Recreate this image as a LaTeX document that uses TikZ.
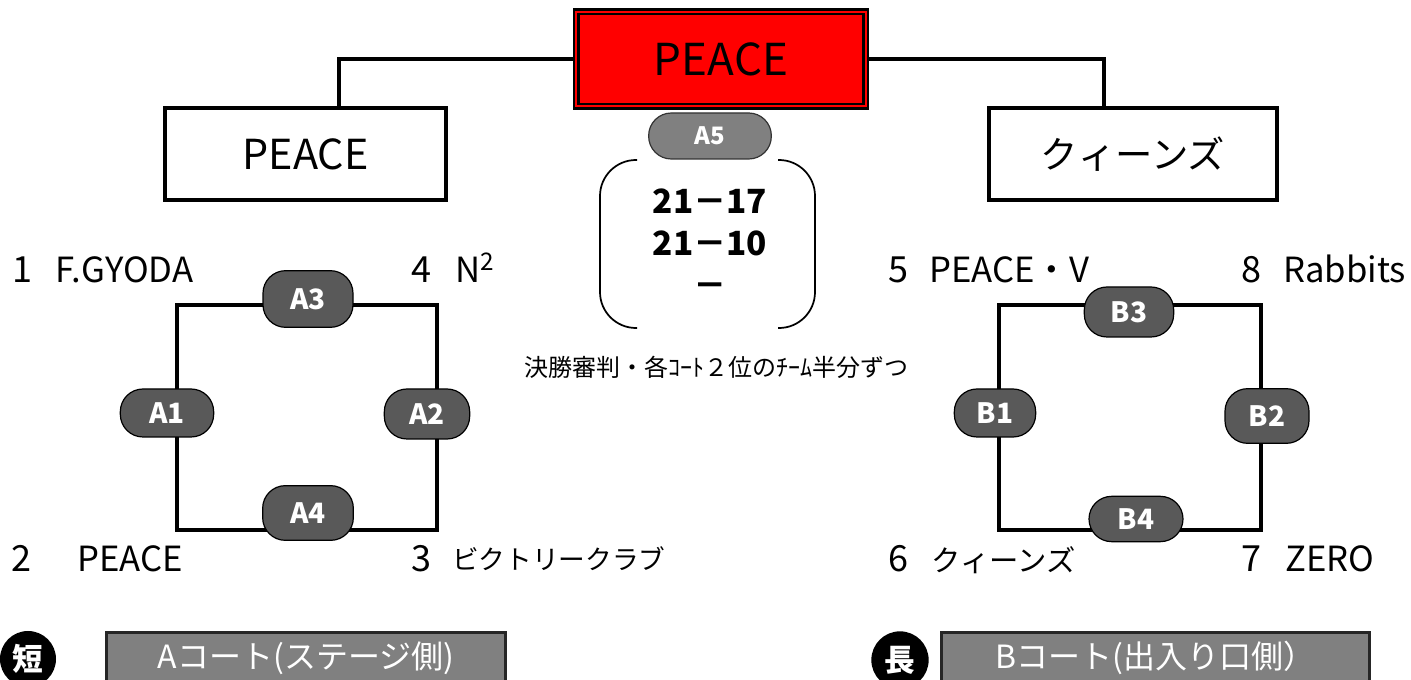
\documentclass[tikz,border=0pt]{standalone}
\usepackage{fontspec}
\setmainfont{Noto Sans CJK JP}
\definecolor{pillgray}{HTML}{595959}
\definecolor{midgray}{HTML}{808080}

\begin{document}
\begin{tikzpicture}[x=0.75pt,y=-0.75pt,
  box/.style={draw, line width=3pt, minimum height=69pt, font=\fontsize{31}{31}\selectfont},
  match/.style={draw, line width=0.9pt, fill=pillgray, text=white, rounded corners=17pt, inner sep=0pt, font=\bfseries\fontsize{21}{21}\selectfont},
  num/.style={anchor=base west, inner sep=0pt, font=\fontsize{27}{27}\selectfont},
  team/.style={anchor=base west, inner sep=0pt, font=\fontsize{26}{26}\selectfont},
  court/.style={draw=black!85, line width=2.2pt, fill=midgray, text=white, minimum height=38.6pt, font=\fontsize{24}{24}\selectfont},
  side/.style={circle, fill=black, text=white, inner sep=0pt, font=\bfseries\fontsize{23}{23}\selectfont}]
\useasboundingbox (0,0) rectangle (1411,680);
\clip (0,0) rectangle (1411,680);

% final and semi-finals
\node[draw, line width=1.8pt, double=red, double distance=1.5pt, fill=red, minimum width=217pt, minimum height=71pt, font=\fontsize{33}{33}\selectfont] (fin) at (721,59) {PEACE};
\node[box, minimum width=211pt] (sa) at (305.5,154) {PEACE};
\node[box, minimum width=216pt, font=\fontsize{28}{28}\selectfont] (sb) at (1133,154) {クィーンズ};
\draw[line width=3pt] (fin.west) -| ([xshift=25pt]sa.north);
\draw[line width=3pt] (fin.east) -| ([xshift=-22pt]sb.north);

% final match
\node[match, fill=midgray, draw=black!80, minimum width=92pt, minimum height=34.5pt, font=\bfseries\fontsize{18}{18}\selectfont] (a5) at (710,136) {A5};
\node[font=\bfseries\fontsize{25}{31.5}\selectfont, align=center] (sc) at (710,243) {21－17\\21－10\\－};
\draw[line width=1.3pt, rounded corners=27pt] (637,160) -- (600,160) -- (600,328) -- (637,328);
\draw[line width=1.3pt, rounded corners=27pt] (778,160) -- (815,160) -- (815,328) -- (778,328);
\node[font=\fontsize{18}{18}\selectfont] (ref) at (716,367) {決勝審判・各ｺｰﾄ２位のﾁｰﾑ半分ずつ};

% court A
\coordinate (anw) at (177,305);
\coordinate (ase) at (437,530);
\draw[line width=3pt] (anw) rectangle (ase);
\node[match, minimum width=67.5pt, minimum height=42.5pt] (a3) at (308,299) {A3};
\node[match, minimum width=70pt, minimum height=36pt] (a1) at (167,413) {A1};
\node[match, minimum width=64pt, minimum height=37.5pt] (a2) at (427,414) {A2};
\node[match, minimum width=68pt, minimum height=41pt] (a4) at (308,513) {A4};

% court B
\coordinate (bnw) at (999,305);
\coordinate (bse) at (1261,530);
\draw[line width=3pt] (bnw) rectangle (bse);
\node[match, minimum width=67pt, minimum height=37.5pt] (b3) at (1129,312) {B3};
\node[match, minimum width=61pt, minimum height=36pt] (b1) at (995,413) {B1};
\node[match, minimum width=63pt, minimum height=41pt] (b2) at (1267,416) {B2};
\node[match, minimum width=70.5pt, minimum height=34pt] (b4) at (1136,519) {B4};

% teams
\node[num] (n1) at (12,283) {1};
\node[team] (t1) at (55,283) {F.GYODA};
\node[num] (n4) at (411,283) {4};
\node[team] (t4) at (455,283) {N\textsuperscript{2}};
\node[num] (n2) at (11,572) {2};
\node[team] (t2) at (77,572) {PEACE};
\node[num] (n3) at (411,572) {3};
\node[team, font=\fontsize{20}{20}\selectfont] (t3) at (452,570) {ビクトリークラブ};
\node[num] (n5) at (888,283) {5};
\node[team] (t5) at (929,283) {PEACE・V};
\node[num] (n8) at (1241,283) {8};
\node[team] (t8) at (1283,283) {Rabbits};
\node[num] (n6) at (888,572) {6};
\node[team, font=\fontsize{22}{22}\selectfont] (t6) at (931,572) {クィーンズ};
\node[num] (n7) at (1241,572) {7};
\node[team] (t7) at (1285,572) {ZERO};

% court labels
\node[side, minimum size=42pt] (ss) at (28,659) {短};
\node[court, minimum width=299pt] (ca) at (306,658) {Aコート(ステージ側)};
\node[side, minimum size=43pt] (sl) at (900,660) {長};
\node[court, minimum width=321pt] (cb) at (1155.5,658) {Bコート(出入り口側）};
\end{tikzpicture}
\end{document}
